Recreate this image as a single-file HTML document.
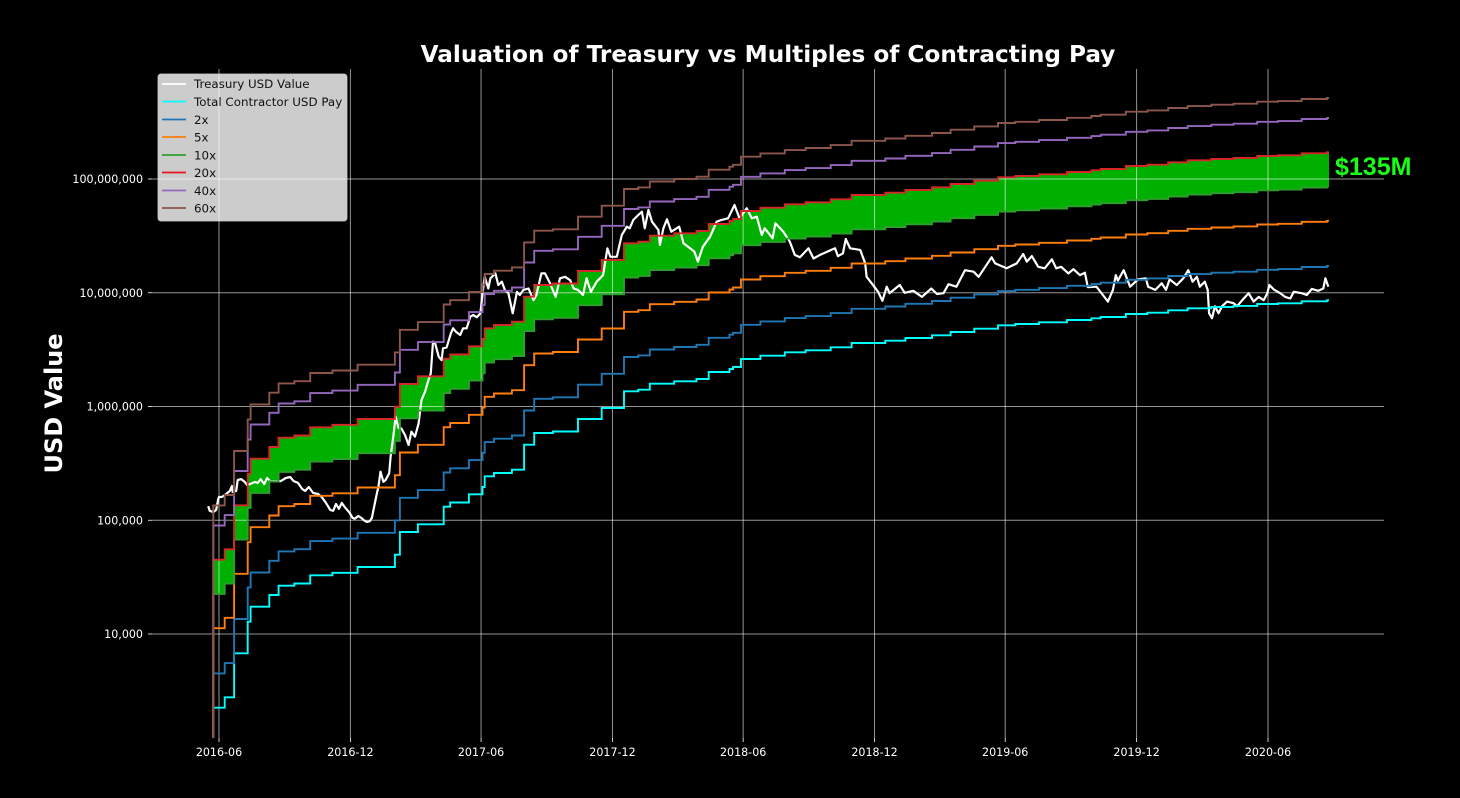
<!DOCTYPE html>
<html lang="en">
<head>
<meta charset="utf-8">
<title>Valuation of Treasury vs Multiples of Contracting Pay</title>
<style>
html,body{margin:0;padding:0;background:#000;width:1460px;height:798px;overflow:hidden;}
svg{display:block;}
text{font-family:"DejaVu Sans","Liberation Sans",sans-serif;}
</style>
</head>
<body>
<svg id="chart" xmlns="http://www.w3.org/2000/svg" width="1460" height="798" viewBox="0 0 1460 798">
  <rect x="0" y="0" width="1460" height="798" fill="#000"/>
  <defs><clipPath id="plot-clip"><rect x="152" y="69" width="1232" height="669"/></clipPath></defs>
  <text x="768" y="62" text-anchor="middle" font-size="23.2" font-weight="bold" fill="#fff">Valuation of Treasury vs Multiples of Contracting Pay</text>
  <text transform="translate(62,403.5) rotate(-90)" text-anchor="middle" font-size="24" font-weight="bold" fill="#fff">USD Value</text>
  <g id="fill-layer" clip-path="url(#plot-clip)"></g>
  <g id="grid-layer"></g>
  <g id="tick-layer"></g>
  <g id="line-layer" clip-path="url(#plot-clip)"></g>
  <g>
    <rect x="158" y="74" width="189" height="147" rx="3" ry="3" fill="#fff" fill-opacity="0.8" stroke="#ccc" stroke-opacity="0.8"/>
    <g font-size="11.85" fill="#111">
      <g><line x1="162" x2="186" y1="84" y2="84" stroke="#fff" stroke-width="1.8"/><text x="194" y="88">Treasury USD Value</text></g>
      <g><line x1="162" x2="186" y1="101.5" y2="101.5" stroke="#00ffff" stroke-width="1.8"/><text x="194" y="106">Total Contractor USD Pay</text></g>
      <g><line x1="162" x2="186" y1="119.5" y2="119.5" stroke="#1f77b4" stroke-width="1.8"/><text x="194" y="124">2x</text></g>
      <g><line x1="162" x2="186" y1="137" y2="137" stroke="#ff7f0e" stroke-width="1.8"/><text x="194" y="141.5">5x</text></g>
      <g><line x1="162" x2="186" y1="155" y2="155" stroke="#2ca02c" stroke-width="1.8"/><text x="194" y="159.5">10x</text></g>
      <g><line x1="162" x2="186" y1="172.5" y2="172.5" stroke="#e8141e" stroke-width="1.8"/><text x="194" y="177">20x</text></g>
      <g><line x1="162" x2="186" y1="190.5" y2="190.5" stroke="#9467bd" stroke-width="1.8"/><text x="194" y="195">40x</text></g>
      <g><line x1="162" x2="186" y1="208" y2="208" stroke="#8c564b" stroke-width="1.8"/><text x="194" y="212.5">60x</text></g>
    </g>
  </g>
  <text x="1335" y="175" font-size="25" font-weight="bold" fill="#18ff18" style="font-family:'Liberation Sans',sans-serif">$135M</text>
</svg>
<script>
// Days are counted from 2016-06-01.
const payDays = [-8,-8,8,21,40,44,70,83,105,127,158,193,245,252,277,313,322,348,367,370,383,408,425,439,465,500,533,564,584,600,634,665,682,711,716,727,754,788,817,852,881,928,956,993,1019,1052,1085,1109,1142,1181,1215,1228,1263,1293,1322,1349,1382,1413,1446,1475,1508,1543,1546];
const payUsd = [1,2250,2776,6770,12830,17380,22020,26590,27800,32810,34510,38820,49800,78800,92100,131500,143200,169100,196000,243400,260300,278200,461400,584800,602600,776600,970000,1361000,1406000,1586000,1666000,1745000,2010000,2138000,2223000,2616000,2798000,2994000,3119000,3313000,3614000,3787000,4000000,4227000,4519000,4831000,5174000,5309000,5499000,5757000,5961000,6124000,6505000,6683000,7015000,7296000,7497000,7656000,7962000,8072000,8414000,8585000,8585000];
const treasuryDays = [-15,-13,-8,-4,-1,0,4,10,15,18,19,24,26,31,36,39,43,50,54,58,63,67,71,79,86,93,99,104,110,116,120,125,131,138,143,149,155,159,163,167,171,175,182,186,189,194,198,202,206,210,213,216,220,222,225,229,232,237,239,243,246,250,254,259,264,268,273,278,282,287,291,295,298,301,306,310,312,317,323,326,330,336,340,345,350,354,359,364,367,370,375,378,385,389,394,398,403,409,415,419,424,431,438,442,449,454,461,469,475,482,489,494,500,507,512,518,526,535,541,545,554,561,568,572,577,584,589,593,598,603,612,614,619,624,630,641,647,656,662,667,674,684,693,700,709,718,725,735,742,749,756,760,771,775,786,795,802,809,821,828,837,858,862,869,873,879,893,900,902,909,918,924,930,934,948,955,967,979,992,1000,1009,1016,1027,1039,1051,1058,1076,1081,1097,1111,1120,1125,1132,1141,1150,1160,1166,1173,1183,1190,1199,1206,1210,1222,1231,1238,1245,1249,1252,1260,1269,1280,1291,1294,1304,1313,1319,1324,1334,1343,1350,1356,1362,1366,1373,1377,1379,1383,1387,1392,1397,1404,1413,1418,1425,1434,1441,1448,1455,1460,1463,1469,1478,1485,1492,1497,1508,1515,1522,1531,1538,1541,1545];
const treasuryThousandsUsd = [133,121,118,123,154,160,160,170,181,200,177,181,226,230,217,204,208,217,213,230,208,235,221,221,221,235,240,221,213,188,181,196,174,170,160,142,123,121,139,126,142,131,116,105,103,109,105,100,96.5,98,105,131,174,196,267,218,226,259,362,562,815,647,640,562,459,600,544,710,1140,1350,1650,1960,3710,3600,2740,2560,3250,3310,4400,4870,4540,4250,4870,4870,6170,6380,6090,6600,9900,13800,10900,13400,14800,11700,12500,10600,9900,6600,10200,9550,10600,10900,8600,9550,14800,14800,12100,9200,13400,13800,12900,10900,10600,9550,13400,10200,12500,14300,24600,20700,20700,32200,38100,36900,43700,48300,51600,36900,53400,42100,35600,26300,36900,44200,34400,38100,27200,24600,23000,18800,25400,31100,42100,43700,45100,59100,45100,55300,45100,46600,32200,36900,30100,40800,34400,28100,21500,20500,24600,20000,21500,24600,21000,22200,29700,24600,23800,18100,13800,12100,10200,8500,11300,9900,11700,10000,10400,9200,10900,9750,9900,11900,11300,15800,15300,13800,20500,18100,16400,18100,21900,18800,21000,16900,16400,19700,16400,16900,14800,16100,14300,15000,11200,11300,9550,8360,10600,14300,12800,15800,11300,13100,13400,11300,10600,12100,10600,13100,11700,13400,15800,12500,13800,11300,12500,10600,6600,5970,7600,6600,7600,8360,8100,7600,8600,9900,8360,9200,8600,9900,11700,10700,9900,9200,8900,10200,9900,9550,10800,10400,10900,13400,11300];
const multiples = [2,5,10,20,40,60];
const multipleColors = ['#1f77b4','#ff7f0e','#2ca02c','#d62728','#9467bd','#8c564b'];
const xTickLabels = ['2016-06','2016-12','2017-06','2017-12','2018-06','2018-12','2019-06','2019-12','2020-06'];
const yTickValues = [10000,100000,1000000,10000000,100000000];
const yTickLabels = ['10,000','100,000','1,000,000','10,000,000','100,000,000'];

const NS = 'http://www.w3.org/2000/svg';
const plot = {left:152,right:1384,top:69,bottom:738};
const originDate = Date.UTC(2016,5,1);

function xScale(day){ return 219 + day * 0.718; }
function yScale(usd){ return Math.min(plot.bottom + 2, 634 - (Math.log10(usd) - 4) * 113.75); }
function monthToDay(label){
  const parts = label.split('-');
  return (Date.UTC(+parts[0], +parts[1]-1, 1) - originDate) / 86400000;
}
function stepPath(days, values){
  let d = '';
  days.forEach(function(day,i){
    const x = xScale(day).toFixed(1), y = yScale(values[i]).toFixed(1);
    if(i === 0){ d += 'M' + x + ' ' + y; }
    else { d += 'H' + x + 'V' + y; }
  });
  return d;
}
function plainPath(days, values){
  return days.map(function(day,i){
    return (i ? 'L' : 'M') + xScale(day).toFixed(1) + ' ' + yScale(values[i]).toFixed(1);
  }).join('');
}
function make(tag, parent, attrs){
  const el = document.createElementNS(NS, tag);
  Object.keys(attrs).forEach(function(k){ el.setAttribute(k, attrs[k]); });
  parent.appendChild(el);
  return el;
}

const fillLayer = document.getElementById('fill-layer');
const gridLayer = document.getElementById('grid-layer');
const tickLayer = document.getElementById('tick-layer');
const lineLayer = document.getElementById('line-layer');

// 10x to 20x band
const lowerBand = payUsd.map(function(v){ return v * 10; });
const upperBand = payUsd.map(function(v){ return v * 20; });
let bandPath = stepPath(payDays.slice(1), upperBand.slice(1));
for(let i = payDays.length - 1; i >= 1; i--){
  bandPath += 'L' + xScale(payDays[i]).toFixed(1) + ' ' + yScale(lowerBand[i]).toFixed(1);
  if(i > 1){ bandPath += 'L' + xScale(payDays[i]).toFixed(1) + ' ' + yScale(lowerBand[i-1]).toFixed(1); }
}
const band = make('path', fillLayer, {d: bandPath + 'Z', fill:'#00b000'});



// Vertical grid and x ticks
xTickLabels.forEach(function(label){
  const x = xScale(monthToDay(label));
  const g = make('line', gridLayer, {x1:x,x2:x,y1:plot.top,y2:plot.bottom,stroke:'#fff','stroke-opacity':0.58,'stroke-width':1});
  
  
  const t = make('line', tickLayer, {x1:x,x2:x,y1:plot.bottom,y2:plot.bottom+4,stroke:'#fff','stroke-width':0.8});
  
  
  const txt = make('text', tickLayer, {x:x,y:756,'text-anchor':'middle','font-size':11.1,fill:'#fff'});
  
  
  txt.textContent = label;
});

// Horizontal grid and y ticks
yTickValues.forEach(function(value,i){
  const y = yScale(value);
  const g = make('line', gridLayer, {x1:plot.left,x2:plot.right,y1:y,y2:y,stroke:'#fff','stroke-opacity':0.58,'stroke-width':1});
  
  
  const t = make('line', tickLayer, {x1:plot.left-4,x2:plot.left,y1:y,y2:y,stroke:'#fff','stroke-width':0.8});
  
  
  const txt = make('text', tickLayer, {x:143,y:y+4,'text-anchor':'end','font-size':11.1,fill:'#fff'});
  
  
  txt.textContent = yTickLabels[i];
});

// Treasury line
const treasuryUsd = treasuryThousandsUsd.map(function(v){ return v * 1000; });
const treasuryLine = make('path', lineLayer, {d: plainPath(treasuryDays, treasuryUsd), fill:'none', stroke:'#fff', 'stroke-width':2.2, 'stroke-linejoin':'round'});



// Contractor pay line
const payLine = make('path', lineLayer, {d: stepPath(payDays, payUsd), fill:'none', stroke:'#00ffff', 'stroke-width':1.9});



// Multiple-of-pay lines
multiples.forEach(function(m,i){
  const vals = payUsd.map(function(v){ return v * m; });
  const line = make('path', lineLayer, {d: stepPath(payDays, vals), fill:'none', stroke:multipleColors[i], 'stroke-width':1.9});
  
  
});
</script>
</body>
</html>
